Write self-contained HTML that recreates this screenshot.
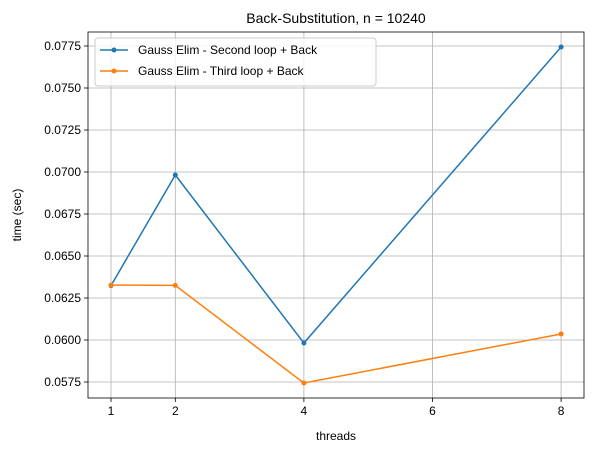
<!DOCTYPE html>
<html><head><meta charset="utf-8"><style>
body{margin:0;background:#fff;}
svg{display:block;font-family:"Liberation Sans","DejaVu Sans",sans-serif;}
</style></head><body>
<svg id="chart" width="594" height="453">
<rect width="594" height="453" fill="#fff"/>
<g id="grid"></g><g id="axes"></g><g id="series"></g>
<text x="336" y="23" text-anchor="middle" font-size="14">Back-Substitution, n = 10240</text>
<text x="336" y="440" text-anchor="middle" font-size="12">threads</text>
<text transform="translate(21,215) rotate(-90)" text-anchor="middle" font-size="12">time (sec)</text>
<g>
<rect x="95" y="38" width="281" height="48" rx="3" fill="#fff" fill-opacity="0.8" stroke="#ccc"/>
<g><line x1="100" y1="50" x2="128" y2="50" stroke="#1f77b4" stroke-width="1.5"/><circle cx="114" cy="50" r="2.5" fill="#1f77b4"/><text x="138" y="54" font-size="12">Gauss Elim - Second loop + Back</text></g>
<g><line x1="100" y1="71" x2="128" y2="71" stroke="#ff7f0e" stroke-width="1.5"/><circle cx="114" cy="71" r="2.5" fill="#ff7f0e"/><text x="138" y="75" font-size="12">Gauss Elim - Third loop + Back</text></g>
</g>
</svg>
<script>
const threads=[1,2,4,8];
const secondLoop=[0.06324,0.06982,0.05982,0.07744];
const thirdLoop=[0.06327,0.06325,0.05744,0.06036];
const xTicks=[1,2,4,6,8];
const yTicks=[0.0575,0.06,0.0625,0.065,0.0675,0.07,0.0725,0.075,0.0775];
const L=88,R=584,T=32,B=398;
const X=v=>111+(v-1)*64.3;
const Y=v=>382-(v-0.0575)/0.0025*42;
const NS="http://www.w3.org/2000/svg";
function mk(p,t,a){const e=document.createElementNS(NS,t);for(const k in a)e.setAttribute(k,a[k]);p.appendChild(e);return e;}
const g=document.getElementById('grid'),ax=document.getElementById('axes'),s=document.getElementById('series');
xTicks.forEach(t=>{const x=X(t);
const gl=mk(g,'line',{x1:x,x2:x,y1:T,y2:B,stroke:'#b0b0b0','stroke-width':0.8});

mk(ax,'line',{x1:x,x2:x,y1:B,y2:B+4,stroke:'#000','stroke-width':0.8});
const tx=mk(ax,'text',{x:x,y:B+17,'text-anchor':'middle','font-size':12});tx.textContent=t;
});
yTicks.forEach(t=>{const y=Y(t);
const gl=mk(g,'line',{x1:L,x2:R,y1:y,y2:y,stroke:'#b0b0b0','stroke-width':0.8});

mk(ax,'line',{x1:L-4,x2:L,y1:y,y2:y,stroke:'#000','stroke-width':0.8});
const tx=mk(ax,'text',{x:L-7,y:y+4,'text-anchor':'end','font-size':12});tx.textContent=t.toFixed(4);
});
const fr=mk(ax,'rect',{x:L,y:T,width:R-L,height:B-T,fill:'none',stroke:'#000','stroke-width':0.8});

function draw(vals,c,n){
const pl=mk(s,'polyline',{points:threads.map((t,i)=>X(t)+','+Y(vals[i])).join(' '),fill:'none',stroke:c,'stroke-width':1.5});

threads.forEach((t,i)=>{const p=mk(s,'circle',{cx:X(t),cy:Y(vals[i]),r:2.5,fill:c});
});}
draw(secondLoop,'#1f77b4','second-loop');
draw(thirdLoop,'#ff7f0e','third-loop');
</script>
</body></html>
